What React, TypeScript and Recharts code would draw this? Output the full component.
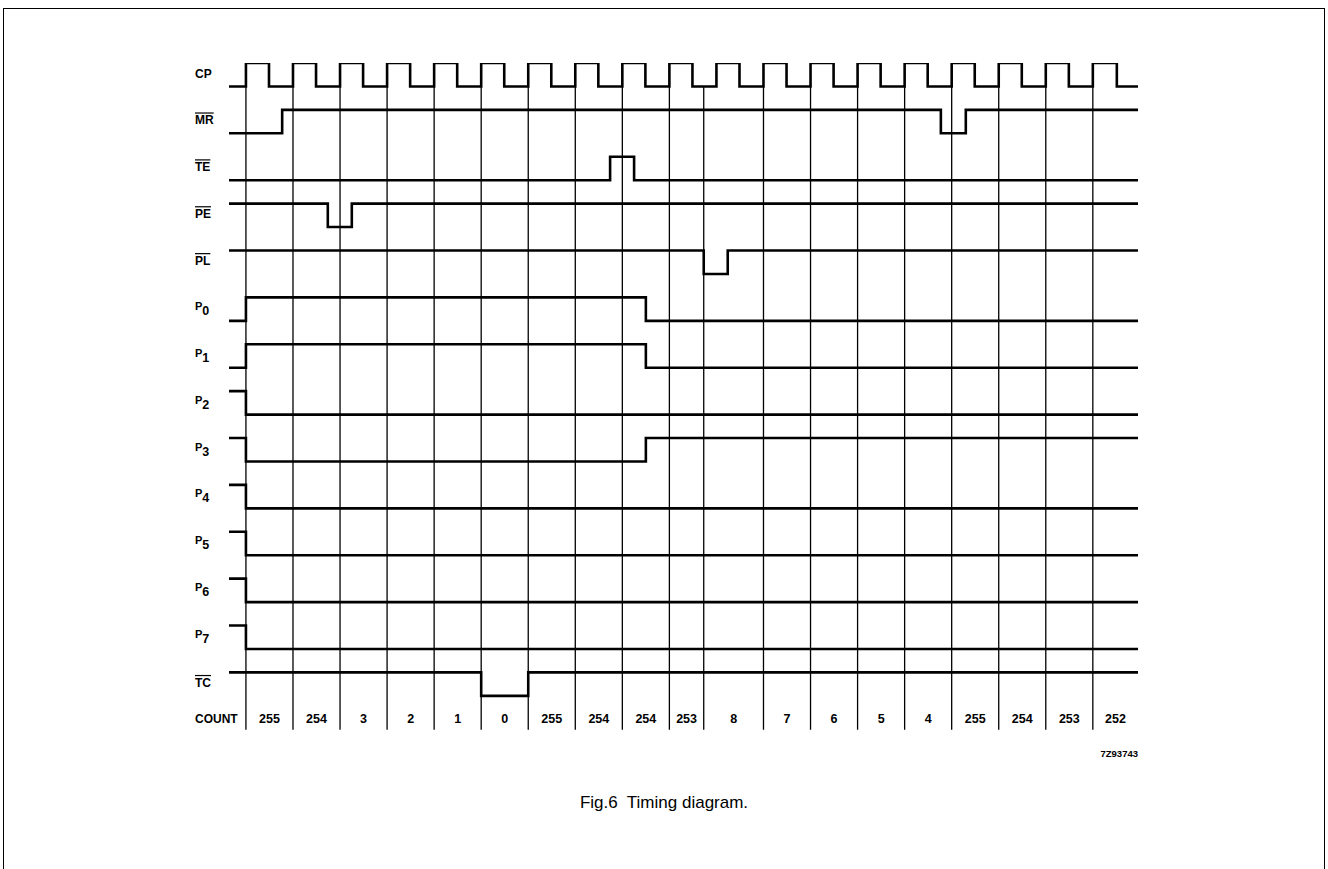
import React from "react";
import {
  ComposedChart,
  Line,
  Scatter,
  XAxis,
  YAxis,
  ReferenceLine
} from "recharts";

// time in clock periods: 0 = first rising edge of CP
const tStart = -0.36;
const tEnd = 18.96;

const rowNames = ["CP", "MR", "TE", "PE", "PL", "P0", "P1", "P2", "P3", "P4", "P5", "P6", "P7", "TC"];
const overlined = ["MR", "TE", "PE", "PL", "TC"];
const initialLevels = [0, 0, 0, 1, 1, 0, 0, 1, 1, 1, 1, 1, 1, 1];

const cpEdges = [
  0, 0.49, 1, 1.49, 2, 2.49, 3, 3.49, 4, 4.49, 5, 5.49, 6, 6.49, 7, 7.49, 8, 8.49, 9, 9.49,
  10, 10.49, 11, 11.49, 12, 12.49, 13, 13.49, 14, 14.49, 15, 15.49, 16, 16.49, 17, 17.49, 18, 18.51
];
const mrEdges = [0.77, 14.77, 15.3];
const teEdges = [7.74, 8.25];
const peEdges = [1.74, 2.25];
const plEdges = [9.73, 10.24];
const p0Edges = [0, 8.5];
const p1Edges = [0, 8.5];
const p2Edges = [0];
const p3Edges = [0, 8.5];
const p4Edges = [0];
const p5Edges = [0];
const p6Edges = [0];
const p7Edges = [0];
const tcEdges = [5, 6];

const allEdges = [cpEdges, mrEdges, teEdges, peEdges, plEdges, p0Edges, p1Edges, p2Edges, p3Edges,
  p4Edges, p5Edges, p6Edges, p7Edges, tcEdges];

// count row
const countBounds = [0, 1, 2, 3, 4, 5, 6, 7, 8, 9, 9.73, 11, 12, 13, 14, 15, 16, 17, 18, 18.96];
const countLabels = ["255", "254", "3", "2", "1", "0", "255", "254", "254", "253", "8", "7", "6", "5", "4", "255", "254", "253", "252"];
const gridTimes = countBounds.slice(0, -1);

// y units: each row takes 2, high = 2*row, low = 2*row + 1
const levelY = (row: number, level: number) => row * 2 + (1 - level);

const waves = rowNames.map((name, row) => {
  let level = initialLevels[row];
  const pts = [{ t: tStart, v: levelY(row, level) }];
  allEdges[row].forEach((e) => {
    level = 1 - level;
    pts.push({ t: e, v: levelY(row, level) });
  });
  pts.push({ t: tEnd, v: levelY(row, level) });
  return { name, data: pts };
});

const countRowY = 28.0;
const labelTicks = [...rowNames.map((_, i) => i * 2 + 0.45), countRowY];
const tickNames = [...rowNames, "COUNT"];

const countData = countLabels.map((label, i) => ({
  t: (countBounds[i] + countBounds[i + 1]) / 2,
  v: countRowY,
  label
}));

const font = "'Liberation Sans', Arial, Helvetica, sans-serif";

const RowLabel = (props: any) => {
  const { x, y, payload } = props;
  const idx = labelTicks.indexOf(payload.value);
  const name = tickNames[idx];
  const common = {
    x: x - 34,
    y,
    textAnchor: "start" as const,
    dominantBaseline: "central" as const,
    fontFamily: font,
    fontWeight: 700,
    fill: "#000"
  };
  if (name && name.startsWith("P") && name.length === 2 && name !== "PE" && name !== "PL") {
    return (
      <text {...common} fontSize={11}>
        <tspan dy={-2}>P</tspan>
        <tspan dy={5} fontSize={12.5}>{name[1]}</tspan>
      </text>
    );
  }
  return (
    <text {...common} fontSize={12} style={overlined.includes(name) ? { textDecoration: "overline" } : undefined}>
      {name}
    </text>
  );
};

const CountLabel = (props: any) => {
  const { cx, cy, payload } = props;
  return (
    <text x={cx} y={cy} textAnchor="middle" dominantBaseline="central" fontFamily={font} fontWeight={700} fontSize={12.5} fill="#000">
      {payload.label}
    </text>
  );
};

const App: React.FC = () => {
  return (
    <div style={{ position: "relative", width: 1328, height: 869, overflow: "hidden", background: "#fff" }}>
      <style>{`body{margin:0;}`}</style>
      <div style={{ position: "absolute", left: 3, top: 8, width: 1322, height: 900, border: "1.5px solid #000", boxSizing: "border-box" }} />
      <div style={{ position: "absolute", left: 0, top: 0 }}>
        <ComposedChart width={1328} height={869} margin={{ top: 63, right: 190, bottom: 138, left: 193 }}>
          <XAxis type="number" dataKey="t" domain={[tStart, tEnd]} allowDataOverflow hide />
          <YAxis
            type="number"
            domain={[0, 28.5]}
            reversed
            allowDataOverflow
            ticks={labelTicks}
            interval={0}
            tick={<RowLabel />}
            tickSize={0}
            tickMargin={0}
            axisLine={false}
            tickLine={false}
            width={36}
          />
          {gridTimes.map((t) => (
            <ReferenceLine
              key={"g" + t}
              segment={[{ x: t, y: 1 }, { x: t, y: 28.45 }]}
              stroke="#000"
              strokeWidth={1.3}
            />
          ))}
          {waves.map((w) => (
            <Line
              key={w.name}
              data={w.data}
              dataKey="v"
              type="stepAfter"
              stroke="#000"
              strokeWidth={2.6}
              dot={false}
              activeDot={false}
              isAnimationActive={false}
            />
          ))}
          <Scatter data={countData} dataKey="v" shape={<CountLabel />} isAnimationActive={false} />
        </ComposedChart>
      </div>
      <div style={{ position: "absolute", right: 1328 - 1138, top: 748, fontFamily: font, fontWeight: 700, fontSize: 9.5 }}>
        7Z93743
      </div>
      <div style={{ position: "absolute", left: 0, width: 1328, top: 793, textAlign: "center", fontFamily: font, fontSize: 17, whiteSpace: "pre" }}>
        {"Fig.6  Timing diagram."}
      </div>
    </div>
  );
};

export default App;
